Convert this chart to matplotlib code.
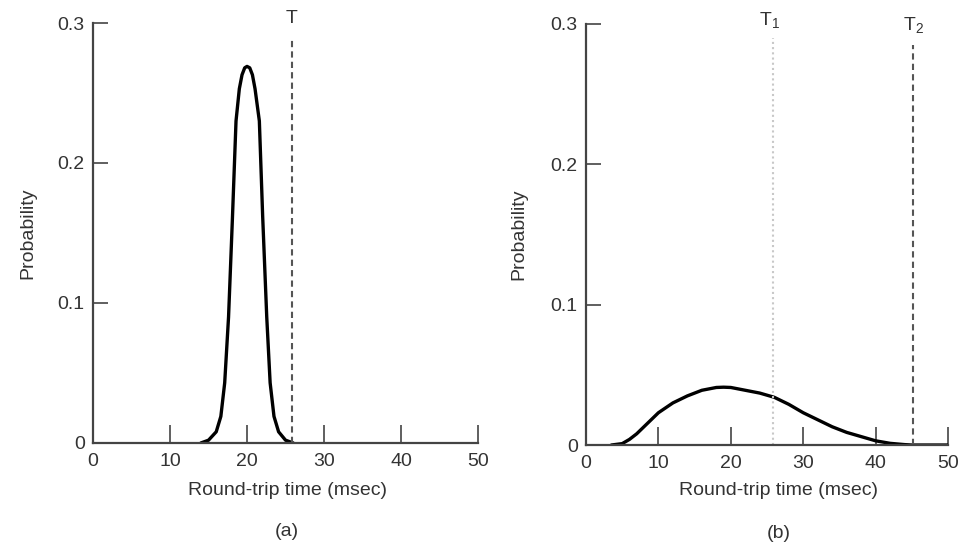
import matplotlib
matplotlib.use('Agg')
import matplotlib.pyplot as plt

plt.rcParams['font.family'] = ['Liberation Sans', 'DejaVu Sans']
plt.rcParams['mathtext.fontset'] = 'custom'
plt.rcParams['mathtext.rm'] = 'Liberation Sans'
plt.rcParams['mathtext.it'] = 'Liberation Sans'

# (a) narrow round-trip time distribution
rtt_a = [14.0, 15.0, 16.0, 16.6, 17.1, 17.6, 18.1, 18.57, 19.0, 19.35, 19.7, 20.0,
         20.35, 20.7, 21.04, 21.6, 22.03, 22.56, 23.0, 23.5, 24.1, 25.0, 26.0]
prob_a = [0.0, 0.002, 0.008, 0.019, 0.043, 0.090, 0.160, 0.230, 0.253, 0.263, 0.268, 0.269,
          0.268, 0.263, 0.253, 0.230, 0.162, 0.090, 0.043, 0.019, 0.008, 0.002, 0.0]

# (b) wide distribution
rtt_b = [3.5, 5, 6, 7, 8, 9, 10, 12, 14, 16, 18, 19, 20, 22, 24, 26, 28,
         30, 32, 34, 36, 38, 40, 42, 44, 45, 50]
prob_b = [0.0, 0.001, 0.004, 0.008, 0.013, 0.018, 0.023, 0.030, 0.035, 0.039, 0.041,
          0.0412, 0.041, 0.039, 0.037, 0.034, 0.029, 0.023, 0.018, 0.013, 0.009,
          0.006, 0.003, 0.0012, 0.0003, 0.0, 0.0]

timeout_a = 25.8
timeout_b1 = 25.8
timeout_b2 = 45.2

xticks = [0, 10, 20, 30, 40, 50]
yticks = [0, 0.1, 0.2, 0.3]
ylabels = ['0', '0.1', '0.2', '0.3']

txt = '#333333'
axcol = '#444444'
fs = 14

fig = plt.figure(figsize=(9.58, 5.49), dpi=100)
ax1 = fig.add_axes([0.0971, 0.1931, 0.4019, 0.765])
ax2 = fig.add_axes([0.6117, 0.1894, 0.3779, 0.767])


def style(ax, xlab_x, xlab_y, ylab_x, tag):
    ax.set_xlim(0, 50)
    ax.set_ylim(0, 0.3)
    for s in ['top', 'right']:
        ax.spines[s].set_visible(False)
    for s in ['left', 'bottom']:
        ax.spines[s].set_color(axcol)
        ax.spines[s].set_linewidth(1.6)
        ax.spines[s].set_clip_on(False)
    ax.set_xticks(xticks)
    ax.set_yticks(yticks)
    ax.set_yticklabels(ylabels)
    ax.tick_params(axis='x', direction='in', length=13, width=1.2, color=axcol,
                   labelsize=fs, labelcolor=txt, pad=7)
    ax.tick_params(axis='y', direction='in', length=11, width=1.2, color=axcol,
                   labelsize=fs, labelcolor=txt, pad=6)
    ax.set_ylabel('Probability', fontsize=fs, color=txt)
    ax.set_xlabel('Round-trip time (msec)', fontsize=fs, color=txt)
    ax.xaxis.set_label_coords(xlab_x, xlab_y)
    ax.xaxis.label.set_verticalalignment('center')
    ax.yaxis.set_label_coords(ylab_x, 0.5)
    ax.yaxis.label.set_verticalalignment('center')
    ax.text(xlab_x, -0.21, tag, transform=ax.transAxes, ha='center', va='center',
            fontsize=fs, color=txt)


style(ax1, 0.504, -0.112, -0.169, '(a)')
ax1.plot(rtt_a, prob_a, color='black', lw=2.4, solid_capstyle='round')
ax1.plot([timeout_a, timeout_a], [0, 0.289], color='#555555', lw=1.5,
         linestyle=(0, (3, 2)))
ax1.text(timeout_a, 0.303, 'T', ha='center', va='center', fontsize=fs, color=txt)

style(ax2, 0.533, -0.107, -0.185, '(b)')
ax2.plot(rtt_b, prob_b, color='black', lw=2.4, solid_capstyle='round')
ax2.plot([timeout_b1, timeout_b1], [0, 0.29], color='#c8c8c8', lw=1.5,
         linestyle=(0, (1, 1.5)))
ax2.plot([timeout_b2, timeout_b2], [0, 0.285], color='#555555', lw=1.5,
         linestyle=(0, (3, 2)))
ax2.text(timeout_b1 - 0.5, 0.303, 'T$_1$', ha='center', va='center', fontsize=fs, color=txt)
ax2.text(timeout_b2, 0.299, 'T$_2$', ha='center', va='center', fontsize=fs, color=txt)

fig.savefig('out.png', dpi=100)
